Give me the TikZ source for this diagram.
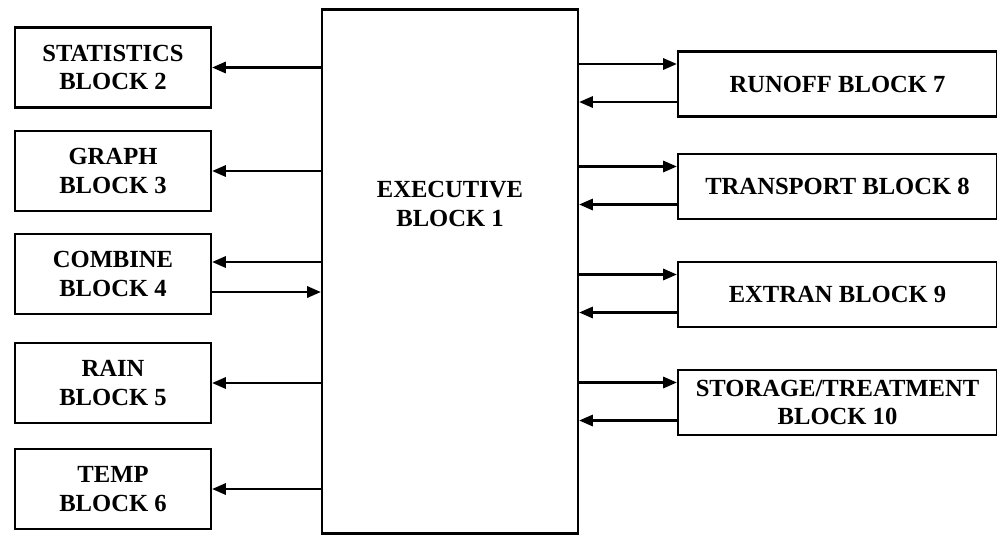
\documentclass[tikz,border=0pt]{standalone}
\usepackage{fontspec}
\setmainfont{Liberation Serif}
\usetikzlibrary{arrows.meta,positioning}

\tikzset{
  blk/.style={draw, line width=1.6pt, align=center, inner sep=0pt,
    font=\bfseries\fontsize{17.5}{20}\selectfont},
  lbox/.style={blk, minimum width=4.9cm, minimum height=2cm},
  rbox/.style={blk, minimum width=7.975cm, minimum height=1.62cm},
  arr/.style={line width=1.6pt, -{Triangle[length=0.34cm,width=0.28cm]}}
}

\begin{document}
\begin{tikzpicture}[x=0.025cm,y=-0.025cm]
  \useasboundingbox (0,0) rectangle (997,535);

  % central block
  \node[blk, minimum width=6.4cm, minimum height=13.1cm] (exec) at (450,271.5) {};
  \node[font=\bfseries\fontsize{17.5}{20}\selectfont, align=center] (exectxt) at (450,204) {EXECUTIVE\\BLOCK 1};

  % blocks on the left
  \node[lbox] (stat) at (113,67.5) {STATISTICS\\BLOCK 2};
  \node[lbox] (graph) at (113,171) {GRAPH\\BLOCK 3};
  \node[lbox] (comb) at (113,274) {COMBINE\\BLOCK 4};
  \node[lbox] (rain) at (113,383) {RAIN\\BLOCK 5};
  \node[lbox] (temp) at (113,489) {TEMP\\BLOCK 6};

  % blocks on the right
  \node[rbox] (runoff) at (837.5,84) {RUNOFF BLOCK 7};
  \node[rbox] (transport) at (837.5,186.5) {TRANSPORT BLOCK 8};
  \node[rbox] (extran) at (837.5,294.5) {EXTRAN BLOCK 9};
  \node[rbox] (storage) at (837.5,402.5) {STORAGE/TREATMENT\\BLOCK 10};

  % executive calls the left blocks
  \foreach \b in {stat,graph,rain,temp}{
    \draw[arr] (exec.west |- \b.east) -- (\b.east);
  }
  \coordinate (comb-in) at ([yshift=0.3cm]comb.east);
  \coordinate (comb-out) at ([yshift=-0.45cm]comb.east);
  \draw[arr] (exec.west |- comb-in) -- (comb-in);
  \draw[arr] (comb-out) -- (exec.west |- comb-out);

  % two way links on the right
  \foreach \b in {runoff,transport,extran,storage}{
    \coordinate (\b-in) at ([yshift=0.5cm]\b.west);
    \coordinate (\b-out) at ([yshift=-0.45cm]\b.west);
    \draw[arr] (exec.east |- \b-in) -- (\b-in);
    \draw[arr] (\b-out) -- (exec.east |- \b-out);
  }
\end{tikzpicture}
\end{document}
